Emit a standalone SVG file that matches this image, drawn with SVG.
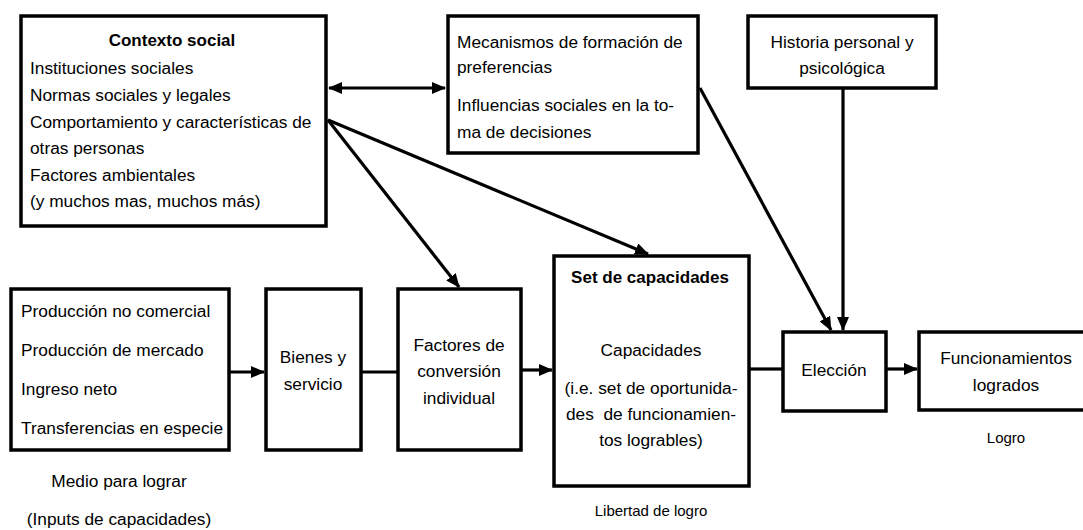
<svg xmlns="http://www.w3.org/2000/svg" width="1083" height="530" viewBox="0 0 1083 530">
<style>
.box{fill:#fff;stroke:#000;stroke-width:3.5}
.t{font-family:"Liberation Sans",Arial,sans-serif;font-size:17.3px;fill:#000}
.b{font-weight:bold;font-size:17px}
.m{text-anchor:middle}
.s{font-size:15px}
.c{stroke:#000;stroke-width:3.2;fill:none}
.a{marker-end:url(#ah)}
.a2{marker-start:url(#ah);marker-end:url(#ah)}
</style>
<defs>
<marker id="ah" markerUnits="userSpaceOnUse" markerWidth="14" markerHeight="12" refX="13" refY="6" orient="auto-start-reverse" viewBox="0 0 14 12">
<path d="M0,0 L14,6 L0,12 z" fill="#000"/>
</marker>
</defs>
<rect width="1083" height="530" fill="#fff"/>
<g id="connectors">
<line class="c a2" x1="329" y1="88" x2="445" y2="88"/>
<line class="c a" x1="328" y1="120" x2="459" y2="287"/>
<line class="c a" x1="328" y1="120" x2="648" y2="254"/>
<line class="c a" x1="700" y1="88" x2="831" y2="330"/>
<line class="c a" x1="843" y1="88" x2="843" y2="330"/>
<line class="c a" x1="229" y1="372" x2="264" y2="372"/>
<line class="c" x1="361" y1="372" x2="397" y2="372"/>
<line class="c a" x1="521" y1="370" x2="552" y2="370"/>
<line class="c" x1="750" y1="369" x2="782" y2="369"/>
<line class="c a" x1="887" y1="369" x2="917" y2="369"/>
</g>
<g id="contexto">
<rect class="box" x="21" y="16" width="305" height="210"/>
<text class="t b m" x="172" y="46">Contexto social</text>
<text class="t" x="30" y="74">Instituciones sociales</text>
<text class="t" x="30" y="101">Normas sociales y legales</text>
<text class="t" x="30" y="128">Comportamiento y características de</text>
<text class="t" x="30" y="154">otras personas</text>
<text class="t" x="30" y="181">Factores ambientales</text>
<text class="t" x="30" y="207">(y muchos mas, muchos más)</text>
</g>
<g id="mecanismos">
<rect class="box" x="448" y="16" width="250" height="137"/>
<text class="t" x="457" y="48">Mecanismos de formación de</text>
<text class="t" x="457" y="73">preferencias</text>
<text class="t" x="457" y="111">Influencias sociales en la to-</text>
<text class="t" x="457" y="138">ma de decisiones</text>
</g>
<g id="historia">
<rect class="box" x="748" y="16" width="188" height="72"/>
<text class="t m" x="842" y="48">Historia personal y</text>
<text class="t m" x="842" y="74">psicológica</text>
</g>
<g id="medios">
<rect class="box" x="11" y="289" width="218" height="161"/>
<text class="t" x="21" y="317">Producción no comercial</text>
<text class="t" x="21" y="356">Producción de mercado</text>
<text class="t" x="21" y="395">Ingreso neto</text>
<text class="t" x="21" y="434">Transferencias en especie</text>
<text class="t m" x="119" y="487">Medio para lograr</text>
<text class="t m" x="119" y="525">(Inputs de capacidades)</text>
</g>
<g id="bienes">
<rect class="box" x="266" y="289" width="95" height="161"/>
<text class="t m" x="313" y="363">Bienes y</text>
<text class="t m" x="313" y="390">servicio</text>
</g>
<g id="factores">
<rect class="box" x="398" y="289" width="123" height="161"/>
<text class="t m" x="459" y="351">Factores de</text>
<text class="t m" x="459" y="377">conversión</text>
<text class="t m" x="459" y="404">individual</text>
</g>
<g id="set">
<rect class="box" x="554" y="256" width="195" height="230"/>
<text class="t b m" x="650" y="283">Set de capacidades</text>
<text class="t m" x="651" y="356">Capacidades</text>
<text class="t m" x="651" y="394">(i.e. set de oportunida-</text>
<text class="t m" x="651" y="420">des&#160; de funcionamien-</text>
<text class="t m" x="651" y="446">tos logrables)</text>
<text class="t s m" x="651" y="516">Libertad de logro</text>
</g>
<g id="eleccion">
<rect class="box" x="783" y="332" width="103" height="79"/>
<text class="t m" x="834" y="376">Elección</text>
</g>
<g id="funcionamientos">
<rect class="box" x="919" y="332" width="180" height="78"/>
<text class="t m" x="1006" y="364">Funcionamientos</text>
<text class="t m" x="1006" y="391">logrados</text>
<text class="t s m" x="1006" y="443">Logro</text>
</g>
</svg>
